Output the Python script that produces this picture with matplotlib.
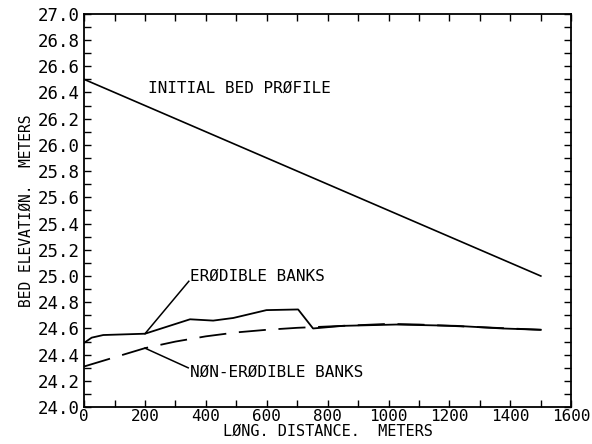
import matplotlib.pyplot as plt
from matplotlib.ticker import MultipleLocator

# initial bed profile
x_init = [0, 1500]
z_init = [26.5, 25.0]

# erodible banks (solid)
x_ero = [0, 25, 63, 200, 348, 424, 490, 599, 703, 752, 850, 1025, 1222, 1374, 1500]
z_ero = [24.49, 24.53, 24.55, 24.56, 24.67, 24.66, 24.68, 24.74, 24.745, 24.60, 24.62, 24.63, 24.62, 24.60, 24.59]

# non-erodible banks (dashed)
x_non = [0, 100, 200, 300, 400, 500, 600, 700, 800, 900, 1000, 1100, 1200, 1300, 1400, 1500]
z_non = [24.31, 24.38, 24.45, 24.50, 24.54, 24.57, 24.59, 24.605, 24.615, 24.625, 24.635, 24.63, 24.62, 24.61, 24.60, 24.59]

plt.rcParams['font.family'] = ['DejaVu Sans Mono']

fig = plt.figure(figsize=(5.92, 4.44), dpi=100)
ax = fig.add_axes([0.142, 0.083, 0.823, 0.886])

ax.plot(x_init, z_init, color='black', lw=1.2)
ax.plot(x_ero, z_ero, color='black', lw=1.3)
ax.plot(x_non, z_non, color='black', lw=1.3, dashes=(15, 7))

ax.text(210, 26.435, 'INITIAL BED PRØFILE', fontsize=11.5, va='center', ha='left')
ax.text(348, 25.0, 'ERØDIBLE BANKS', fontsize=11.5, va='center', ha='left')
ax.plot([200, 344], [24.56, 24.96], color='black', lw=1.1)
ax.text(348, 24.27, 'NØN-ERØDIBLE BANKS', fontsize=11.5, va='center', ha='left')
ax.plot([200, 342], [24.45, 24.30], color='black', lw=1.1)

ax.set_xlim(0, 1600)
ax.set_ylim(24.0, 27.0)
ax.xaxis.set_major_locator(MultipleLocator(200))
ax.xaxis.set_minor_locator(MultipleLocator(100))
ax.yaxis.set_major_locator(MultipleLocator(0.2))
ax.yaxis.set_minor_locator(MultipleLocator(0.1))
ax.yaxis.set_major_formatter(plt.FormatStrFormatter('%.1f'))
ax.tick_params(which='both', direction='in', top=True, right=True, length=5, width=1.0)
ax.tick_params(axis='y', labelsize=12.5, pad=3)
ax.tick_params(axis='x', labelsize=11.5, pad=1)
for s in ax.spines.values():
    s.set_linewidth(1.3)

ax.set_xlabel('LØNG. DISTANCE.  METERS', fontsize=11, labelpad=0)
ax.set_ylabel('BED ELEVATIØN.  METERS', fontsize=10.5, labelpad=3)

fig.savefig('out.png', dpi=100)
